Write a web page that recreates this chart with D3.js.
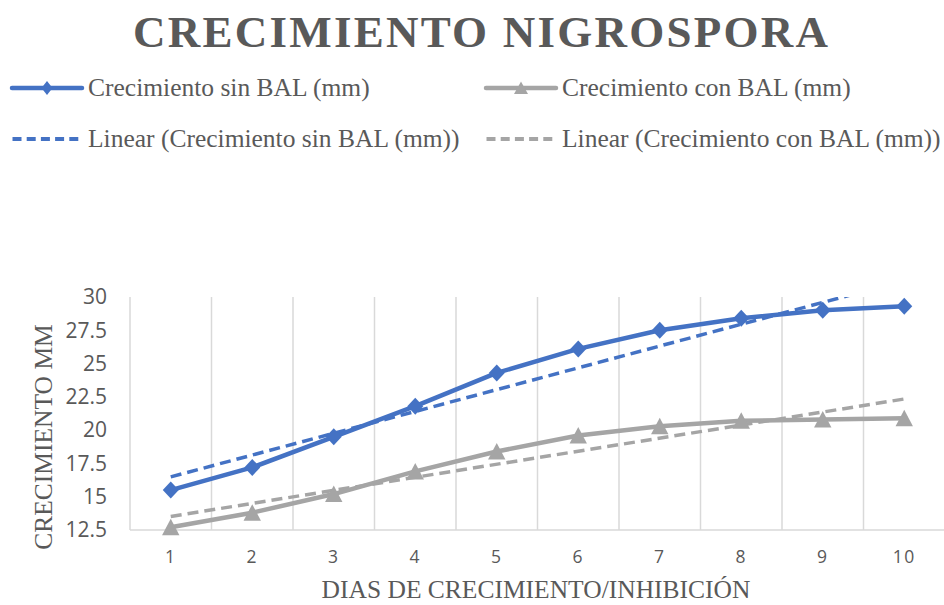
<!DOCTYPE html>
<html>
<head>
<meta charset="utf-8">
<script src="https://cdn.jsdelivr.net/npm/d3@7"></script>
<style>
  html, body { margin: 0; padding: 0; background: #fff; }
  svg { display: block; }
</style>
</head>
<body>
<svg id="chart" width="944" height="605"></svg>
<script>
// Days of growth (category axis)
const days = ["1", "2", "3", "4", "5", "6", "7", "8", "9", "10"];
// Growth without BAL (mm)
const sinBAL = [15.5, 17.2, 19.5, 21.8, 24.3, 26.1, 27.5, 28.4, 29.0, 29.3];
// Growth with BAL (mm)
const conBAL = [12.7, 13.8, 15.2, 16.9, 18.4, 19.6, 20.3, 20.7, 20.8, 20.9];
// Value axis ticks
const yTicks = [12.5, 15, 17.5, 20, 22.5, 25, 27.5, 30];

const seriesNames = ["Crecimiento sin BAL (mm)", "Crecimiento con BAL (mm)"];
const trendNames = ["Linear (Crecimiento sin BAL (mm))", "Linear (Crecimiento con BAL (mm))"];

const BLUE = "#4472C4", GRAY = "#A5A5A5", TEXT = "#595959", GRID = "#D9D9D9";
const SERIF = "'Liberation Serif', 'Times New Roman', serif";
const SANS = "'Open Sans', 'Noto Sans', sans-serif";

const svg = d3.select("#chart");
svg.append("rect").attr("width", 944).attr("height", 605).attr("fill", "#fff");

const plot = { left: 130, right: 945, top: 297, bottom: 530 };

const x = d3.scaleBand().domain(days).range([plot.left, plot.right]);
const y = d3.scaleLinear().domain([12.5, 30]).range([plot.bottom, plot.top]);
const cx = d => x(d) + x.bandwidth() / 2;

// Category gridlines at band edges
const edges = days.map(d => x(d)).concat([plot.right]);
svg.append("g").selectAll("line").data(edges).join("line")
  .attr("x1", d => d).attr("x2", d => d)
  .attr("y1", plot.top).attr("y2", plot.bottom)
  .attr("stroke", GRID).attr("stroke-width", 1.5);

// Horizontal axis line
svg.append("line")
  .attr("x1", plot.left).attr("x2", plot.right)
  .attr("y1", plot.bottom).attr("y2", plot.bottom)
  .attr("stroke", GRID).attr("stroke-width", 1.5);

// Y axis labels
const yAxis = svg.append("g")
  .attr("transform", `translate(${plot.left},0)`)
  .call(d3.axisLeft(y).tickValues(yTicks).tickSize(0).tickPadding(23).tickFormat(d => String(d)));
yAxis.select(".domain").remove();
yAxis.selectAll("text")
  .attr("font-family", SANS).attr("font-size", 21).attr("fill", TEXT);

// X axis labels
const xAxis = svg.append("g")
  .attr("transform", `translate(0,${plot.bottom})`)
  .call(d3.axisBottom(x).tickSize(0).tickPadding(21));
xAxis.select(".domain").remove();
xAxis.selectAll("text")
  .attr("font-family", SANS).attr("font-size", 17.5).attr("fill", TEXT)
  .attr("letter-spacing", 1.5);

// Clip region for trendlines
svg.append("clipPath").attr("id", "plotClip")
  .append("rect")
  .attr("x", plot.left).attr("y", plot.top)
  .attr("width", plot.right - plot.left).attr("height", plot.bottom - plot.top);

// Least-squares linear fit over day index 1..n
function linearFit(vals) {
  const xs = vals.map((_, i) => i + 1);
  const mx = d3.mean(xs), my = d3.mean(vals);
  let sxy = 0, sxx = 0;
  xs.forEach((xi, i) => { sxy += (xi - mx) * (vals[i] - my); sxx += (xi - mx) * (xi - mx); });
  const slope = sxy / sxx;
  const icpt = my - slope * mx;
  return days.map((d, i) => ({ day: d, v: icpt + slope * (i + 1) }));
}

const lineGen = d3.line().x(d => cx(d.day)).y(d => y(d.v));

// Trendlines
const trends = [
  { pts: linearFit(sinBAL), color: BLUE },
  { pts: linearFit(conBAL), color: GRAY }
];
svg.append("g").attr("clip-path", "url(#plotClip)")
  .selectAll("path").data(trends).join("path")
  .attr("d", t => lineGen([t.pts[0], t.pts[t.pts.length - 1]]))
  .attr("fill", "none").attr("stroke", t => t.color)
  .attr("stroke-width", 3.5).attr("stroke-dasharray", "11,6");

// Series lines
const series = [
  { vals: sinBAL, color: BLUE, marker: "diamond" },
  { vals: conBAL, color: GRAY, marker: "triangle" }
];
series.forEach(s => {
  const pts = days.map((d, i) => ({ day: d, v: s.vals[i] }));
  svg.append("path").datum(pts)
    .attr("d", lineGen)
    .attr("fill", "none").attr("stroke", s.color)
    .attr("stroke-width", 4.5).attr("stroke-linejoin", "round");
  const g = svg.append("g");
  g.selectAll("path").data(pts).join("path")
    .attr("d", s.marker === "diamond" ? "M0,-8.5L8,0L0,8.5L-8,0Z" : "M0,-8.5L8.7,8L-8.7,8Z")
    .attr("transform", d => `translate(${cx(d.day)},${y(d.v)})`)
    .attr("fill", s.color);
});

// Title
svg.append("text")
  .attr("x", 133).attr("y", 47)
  .attr("textLength", 695).attr("lengthAdjust", "spacing")
  .attr("font-family", SERIF).attr("font-weight", "bold")
  .attr("font-size", 45).attr("fill", TEXT)
  .text("CRECIMIENTO NIGROSPORA");

// Legend
const legend = svg.append("g");
const legendItems = [
  { x: 12, y: 88, name: seriesNames[0], color: BLUE, kind: "diamond" },
  { x: 486, y: 88, name: seriesNames[1], color: GRAY, kind: "triangle" },
  { x: 12, y: 139, name: trendNames[0], color: BLUE, kind: "dash" },
  { x: 486, y: 139, name: trendNames[1], color: GRAY, kind: "dash" }
];
legendItems.forEach(it => {
  const g = legend.append("g").attr("transform", `translate(${it.x},${it.y})`);
  if (it.kind === "dash") {
    g.append("line").attr("x1", 0).attr("x2", 70).attr("y1", 0).attr("y2", 0)
      .attr("stroke", it.color).attr("stroke-width", 4)
      .attr("stroke-dasharray", "9,5.2").attr("stroke-dashoffset", -0.5);
  } else {
    g.append("line").attr("x1", 0).attr("x2", 70).attr("y1", 0).attr("y2", 0)
      .attr("stroke", it.color).attr("stroke-width", 4.5).attr("stroke-linecap", "round");
    g.append("path")
      .attr("d", it.kind === "diamond" ? "M0,-7L5.5,0L0,7L-5.5,0Z" : "M0,-6.5L7,6L-7,6Z")
      .attr("transform", "translate(35,0)")
      .attr("fill", it.color);
  }
  g.append("text").attr("x", 76).attr("y", 8)
    .attr("font-family", SERIF).attr("font-size", 25.5).attr("fill", TEXT)
    .text(it.name);
});

// Axis titles
svg.append("text")
  .attr("transform", "translate(52,437) rotate(-90)")
  .attr("text-anchor", "middle")
  .attr("font-family", SERIF).attr("font-size", 25.5).attr("fill", TEXT)
  .text("CRECIMIENTO MM");

svg.append("text")
  .attr("x", 536).attr("y", 598)
  .attr("text-anchor", "middle")
  .attr("font-family", SERIF).attr("font-size", 25.5).attr("fill", TEXT)
  .text("DIAS DE CRECIMIENTO/INHIBICIÓN");
</script>
</body>
</html>
